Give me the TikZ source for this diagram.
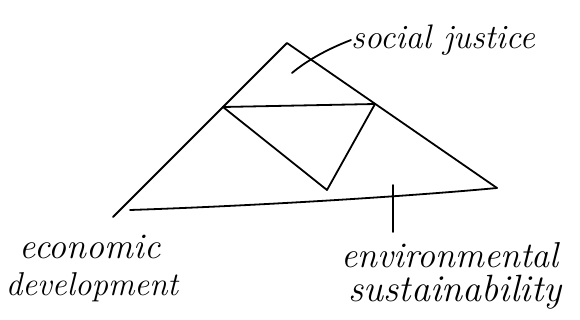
\documentclass[tikz,border=0pt]{standalone}
\begin{document}
\begin{tikzpicture}[x=1pt,y=-1pt,
  pen/.style={line width=1.8pt,line cap=round,line join=round,black},
  hand/.style={font=\fontsize{36}{36}\selectfont\itshape,inner sep=0pt}]
\useasboundingbox (0,0) rectangle (580,320);
% outer triangle
\coordinate (T) at (287,43);
\coordinate (L) at (113,217);
\coordinate (B1) at (130,210);
\coordinate (R) at (497,188);
% inner triangle
\coordinate (IL) at (223,107);
\coordinate (IR) at (375,104);
\coordinate (IB) at (327,190);
\draw[pen] (L) -- (T) -- (R);
\draw[pen] (B1) .. controls (250,206) and (400,197) .. (R);
\draw[pen] (IL) -- (IR) -- (IB) -- (IL);
% labels
\node[hand,font=\fontsize{34}{34}\selectfont\itshape] (sj) at (443,40) {social justice};
\node[hand] (ec) at (90,247) {economic};
\node[hand,font=\fontsize{33}{33}\selectfont\itshape] (dev) at (92,287) {development};
\node[hand] (env) at (450,255) {environmental};
\node[hand,font=\fontsize{38}{38}\selectfont\itshape] (sus) at (455,292) {sustainability};
% leader and tick
\coordinate (s0) at (292,73);
\draw[pen] (s0) .. controls (305,62) and (325,50) .. (sj.west);
\coordinate (v0) at (393,185);
\coordinate (v1) at (393,232);
\draw[pen] (v0) -- (v1);
\end{tikzpicture}
\end{document}
